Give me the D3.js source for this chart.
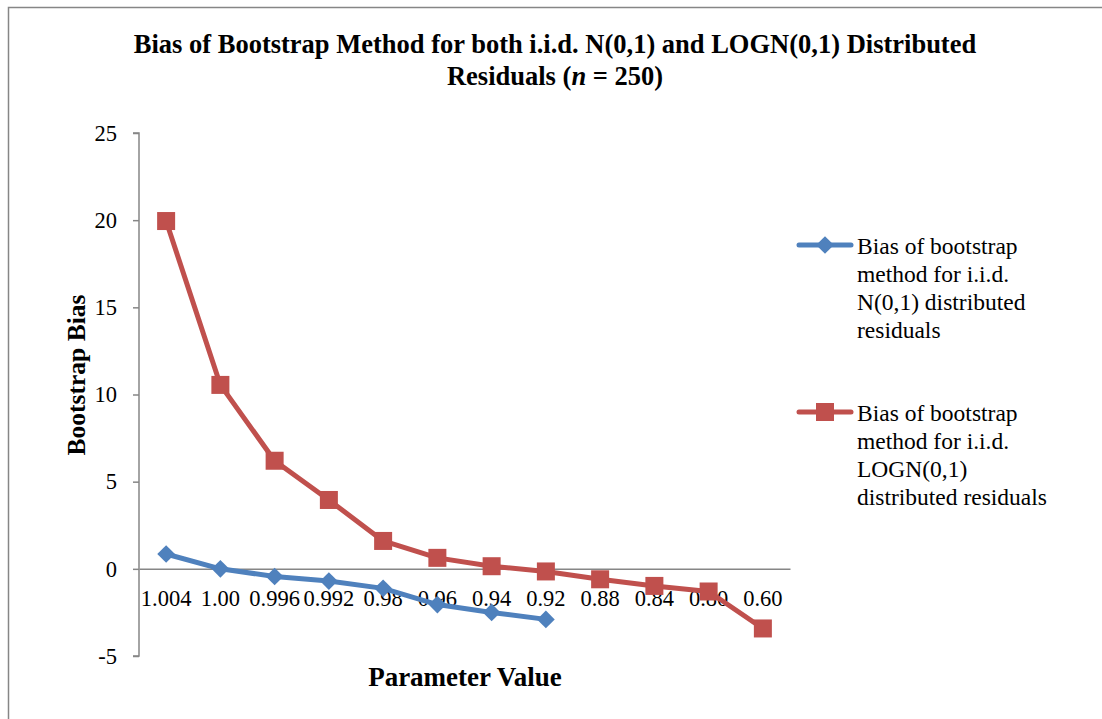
<!DOCTYPE html>
<html>
<head>
<meta charset="utf-8">
<script src="https://cdn.jsdelivr.net/npm/d3@7"></script>
<style>
  body { margin: 0; background: #fff; }
  text { font-family: "Liberation Serif", "Times New Roman", serif; fill: #000; }
</style>
</head>
<body>
<div id="chart"></div>
<script>
var categories = ["1.004", "1.00", "0.996", "0.992", "0.98", "0.96", "0.94", "0.92", "0.88", "0.84", "0.80", "0.60"];
var normalBias = [0.85, 0.0, -0.44, -0.7, -1.12, -2.05, -2.5, -2.9];
var lognBias = [19.95, 10.55, 6.2, 3.95, 1.6, 0.63, 0.15, -0.15, -0.6, -0.98, -1.3, -3.42];
var yTicks = [-5, 0, 5, 10, 15, 20, 25];

var width = 1102;
var height = 719;
var margin = {top: 133, left: 139, right: 312, bottom: 63};

var svg = d3.select("#chart")
  .append("svg")
  .attr("width", width)
  .attr("height", height);

// chart area border
svg.append("rect")
  .attr("x", 8.5)
  .attr("y", 7.5)
  .attr("width", width + 10)
  .attr("height", height + 10)
  .attr("fill", "none")
  .attr("stroke", "#868686")
  .attr("stroke-width", 1.5);

var x = d3.scaleBand()
  .domain(categories)
  .range([margin.left, width - margin.right]);

var y = d3.scaleLinear()
  .domain([-5, 25])
  .range([height - margin.bottom, margin.top]);

var grp = svg.append("g");

// y axis
var yAxis = grp.append("g")
  .attr("transform", "translate(" + margin.left + ",0)")
  .call(d3.axisLeft(y).tickValues(yTicks).tickSize(6).tickPadding(16)
    .tickFormat(function(d) { return String(d); }));
yAxis.selectAll("line, path").attr("stroke", "#868686").attr("stroke-width", 1.5);
yAxis.select(".domain").attr("d", "M-6," + y(-5) + "H0V" + y(25) + "H-6");
yAxis.selectAll("text")
  .attr("font-family", "Liberation Serif")
  .attr("font-size", 22.5)
  .attr("fill", "#000");

// x axis at zero
var xAxis = grp.append("g")
  .attr("transform", "translate(0," + y(0) + ")")
  .call(d3.axisBottom(x).tickSize(0).tickPadding(21));
xAxis.select(".domain").attr("stroke", "#868686").attr("stroke-width", 1.5);
xAxis.selectAll("text")
  .attr("font-family", "Liberation Serif")
  .attr("font-size", 22.5)
  .attr("fill", "#000");

var line = d3.line()
  .x(function(d, i) { return x(categories[i]) + x.bandwidth() / 2; })
  .y(function(d) { return y(d); });

var blue = "#4F81BD";
var red = "#C0504D";

grp.append("path")
  .datum(lognBias)
  .attr("d", line)
  .attr("fill", "none")
  .attr("stroke", red)
  .attr("stroke-width", 5)
  .attr("stroke-linejoin", "round");

grp.append("path")
  .datum(normalBias)
  .attr("d", line)
  .attr("fill", "none")
  .attr("stroke", blue)
  .attr("stroke-width", 5)
  .attr("stroke-linejoin", "round");

grp.selectAll(".sq")
  .data(lognBias)
  .enter().append("rect")
  .attr("class", "sq")
  .attr("x", function(d, i) { return x(categories[i]) + x.bandwidth() / 2 - 9; })
  .attr("y", function(d) { return y(d) - 9; })
  .attr("width", 18)
  .attr("height", 18)
  .attr("fill", red);

var diamond = d3.symbol().type(d3.symbolDiamond2).size(200);
grp.selectAll(".dm")
  .data(normalBias)
  .enter().append("path")
  .attr("class", "dm")
  .attr("d", diamond)
  .attr("transform", function(d, i) { return "translate(" + (x(categories[i]) + x.bandwidth() / 2) + "," + y(d) + ")"; })
  .attr("fill", blue);

// title
var title = svg.append("text")
  .attr("text-anchor", "middle")
  .attr("font-weight", "bold")
  .attr("font-size", 26.5);
title.append("tspan").attr("x", 555).attr("y", 53)
  .text("Bias of Bootstrap Method for both i.i.d. N(0,1) and LOGN(0,1) Distributed");
var t2 = title.append("tspan").attr("x", 555).attr("y", 85);
t2.append("tspan").text("Residuals (");
t2.append("tspan").attr("font-style", "italic").text("n");
t2.append("tspan").text(" = 250)");

// axis titles
svg.append("text")
  .attr("text-anchor", "middle")
  .attr("font-weight", "bold")
  .attr("font-size", 27)
  .attr("x", 465)
  .attr("y", 686)
  .text("Parameter Value");

svg.append("text")
  .attr("text-anchor", "middle")
  .attr("font-weight", "bold")
  .attr("font-size", 25.5)
  .attr("transform", "translate(85,375) rotate(-90)")
  .text("Bootstrap Bias");

// legend
var legendItems = [
  {color: blue, marker: "diamond", lines: ["Bias of bootstrap", "method for i.i.d.", "N(0,1) distributed", "residuals"], y: 245},
  {color: red, marker: "square", lines: ["Bias of bootstrap", "method for i.i.d.", "LOGN(0,1)", "distributed residuals"], y: 412}
];

var legend = svg.append("g");
legendItems.forEach(function(item) {
  var g = legend.append("g").attr("transform", "translate(0," + item.y + ")");
  g.append("line")
    .attr("x1", 799).attr("x2", 851)
    .attr("stroke", item.color)
    .attr("stroke-width", 5)
    .attr("stroke-linecap", "round");
  if (item.marker === "square") {
    g.append("rect").attr("x", 816).attr("y", -9).attr("width", 18).attr("height", 18).attr("fill", item.color);
  } else {
    g.append("path").attr("d", diamond).attr("transform", "translate(825,0)").attr("fill", item.color);
  }
  var t = g.append("text").attr("font-size", 23.5);
  item.lines.forEach(function(l, i) {
    t.append("tspan").attr("x", 857).attr("y", 9 + i * 28).text(l);
  });
});
</script>
</body>
</html>
